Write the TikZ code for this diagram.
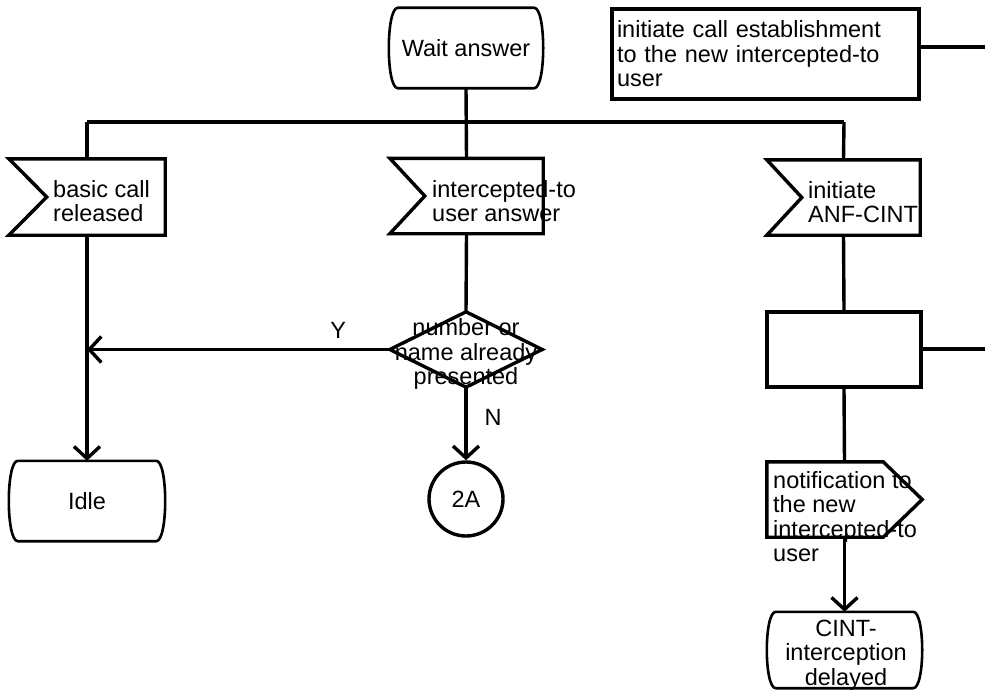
\documentclass[tikz,border=0pt]{standalone}
\usepackage{fontspec}
\setmainfont{Liberation Sans}
\usetikzlibrary{arrows.meta}
\newcommand\stateshape[1]{%
  \draw[thinlw] ([xshift=9pt]#1.north west) -- ([xshift=-9pt]#1.north east)
    .. controls ([xshift=3pt]#1.north east) and ([xshift=3pt]#1.south east) .. ([xshift=-9pt]#1.south east)
    -- ([xshift=9pt]#1.south west)
    .. controls ([xshift=-3pt]#1.south west) and ([xshift=-3pt]#1.north west) .. cycle;}
\newcommand\inshape[2]{%
  \draw[lw] (#1.north west) -- (#1.north east) -- (#1.south east) -- (#1.south west)
    -- ([xshift=#2]#1.west) -- cycle;}
\begin{document}
\begin{tikzpicture}[x=1pt,y=-1pt,
  lw/.style={line width=3.4pt, line join=miter},
  thinlw/.style={line width=2.6pt},
  txt/.style={font=\fontsize{23.5}{24.5}\selectfont, inner sep=0pt},
  arr/.style={lw, -{Straight Barb[length=12pt,width=26pt]}},
]
\useasboundingbox (0,0) rectangle (985,693);

% states
\node[txt, minimum width=154, minimum height=80] (wait) at (466,48) {Wait answer};
\stateshape{wait}
\node[txt, minimum width=156, minimum height=80] (idle) at (87,501) {Idle};
\stateshape{idle}
\node[minimum width=155, minimum height=76, inner sep=0pt] (cint) at (844.5,650) {};
\stateshape{cint}
\node[txt, align=center] (cintt) at (846,655) {CINT-\\interception\\delayed};

% task boxes
\node[txt, draw, lw, minimum width=307, minimum height=90, text width=297, inner xsep=5pt, align=left]
  (task1) at (765.5,54) {initiate call establishment\\to the new intercepted-to\\user};
\node[draw, lw, minimum width=154, minimum height=75, inner sep=0pt] (task2) at (844,349.5) {};

% input signals
\node[minimum width=156, minimum height=76, inner sep=0pt] (sigA) at (87,197) {};
\inshape{sigA}{38pt}
\node[txt, anchor=west, align=left] (sigAt) at (53,201) {basic call\\released};

\node[minimum width=153, minimum height=75, inner sep=0pt] (sigB) at (466.5,196) {};
\inshape{sigB}{35pt}
\node[txt, anchor=west, align=left] (sigBt) at (432,201) {intercepted-to\\user answer};

\node[minimum width=153, minimum height=75, inner sep=0pt] (sigC) at (843.5,197.5) {};
\inshape{sigC}{35pt}
\node[txt, anchor=west, align=left] (sigCt) at (808,202) {initiate\\ANF-CINT};

% decision
\node[minimum width=152, minimum height=75, inner sep=0pt] (dec) at (466,349.5) {};
\draw[lw] (dec.north) -- (dec.east) -- (dec.south) -- (dec.west) -- cycle;
\node[txt, align=center] (dect) at (466,354) {number or\\name already\\presented};

% connector
\node[txt, draw, lw, circle, minimum size=74] (con) at (466,499) {2A};

% output signal
\node[minimum width=155, minimum height=75, inner sep=0pt] (out) at (844.5,499.5) {};
\draw[lw] (out.north west) -- ([xshift=-39pt]out.north east) -- (out.east)
  -- ([xshift=-39pt]out.south east) -- (out.south west) -- cycle;
\node[txt, anchor=north west, align=left] (outt) at (773,471)
  {notification to\\the new\\intercepted-to\\user};

% bus and connectors
\coordinate (busL) at (87,122);
\coordinate (busR) at (844,122);
\coordinate (e1) at (985,47);
\coordinate (e2) at (985,349);
\draw[lw] (busL) -- (busR);
\draw[lw] (wait.south) -- (sigB.north);
\draw[lw] (busL) -- (sigA.north);
\draw[lw] (busR) -- (sigC.north);
\draw[lw] (task1.east |- e1) -- (e1);
\draw[lw] (task2.east |- e2) -- (e2);

\draw[arr] (sigA.south) -- (idle.north);
\draw[lw] (sigB.south) -- (dec.north);
\draw[arr] (dec.west) -- (dec.west -| sigA.south) node[pos=0.17, above=9pt, txt] (ylab) {Y};
\draw[arr] (dec.south) -- (con.north) node[pos=0.42, right=17pt, txt] (nlab) {N};

\draw[lw] (sigC.south) -- (task2.north);
\draw[lw] (task2.south) -- (out.north);
\draw[arr] (out.south) -- (cint.north);
\end{tikzpicture}
\end{document}
